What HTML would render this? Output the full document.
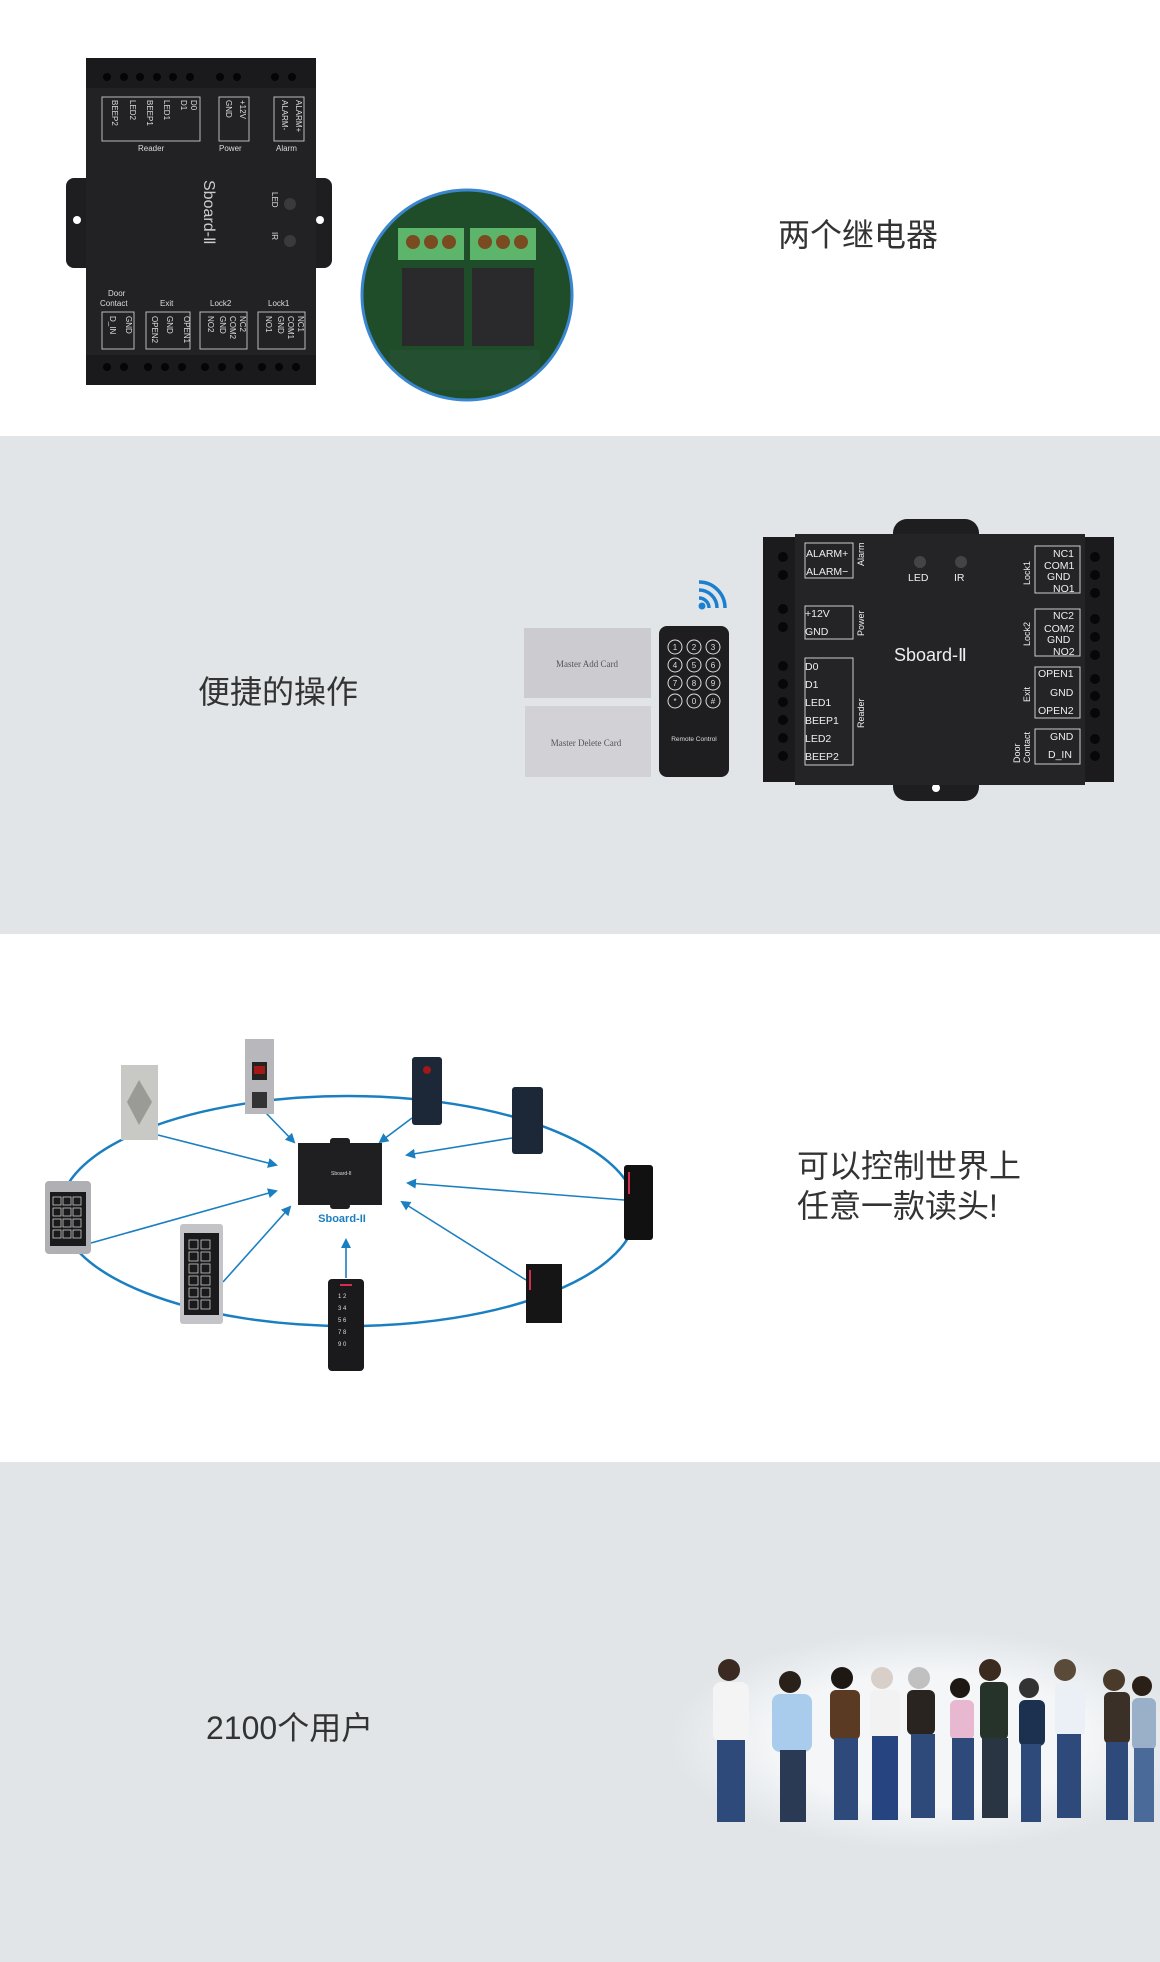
<!DOCTYPE html>
<html><head><meta charset="utf-8"><style>
html,body{margin:0;padding:0;}
body{width:1160px;height:1962px;position:relative;overflow:hidden;background:#fff;font-family:"Liberation Sans","Noto Sans CJK SC",sans-serif;}
.t{position:absolute;color:#333;font-family:"Liberation Sans","Noto Sans CJK SC",sans-serif;font-size:32px;line-height:40px;white-space:nowrap;}
</style></head><body>
<svg width="1160" height="1962" viewBox="0 0 1160 1962" style="position:absolute;left:0;top:0" font-family="Liberation Sans, sans-serif">
<defs>
<marker id="ar" markerWidth="10" markerHeight="10" refX="8" refY="5" orient="auto" markerUnits="userSpaceOnUse"><path d="M0,0 L10,5 L0,10 z" fill="#1a7fc0"/></marker>
<radialGradient id="halo" cx="0.5" cy="0.5" r="0.5"><stop offset="0.6" stop-color="#f4f6f8"/><stop offset="1" stop-color="#e1e5e8"/></radialGradient>
</defs>
<rect x="0" y="0" width="1160" height="436" fill="#fff"/>
<rect x="0" y="436" width="1160" height="498" fill="#e1e5e8"/>
<rect x="0" y="934" width="1160" height="528" fill="#fff"/>
<rect x="0" y="1462" width="1160" height="500" fill="#e1e5e8"/>

<!-- device 1 -->
<rect x="66" y="178" width="30" height="90" rx="8" fill="#1e1e20"/>
<rect x="302" y="178" width="30" height="90" rx="8" fill="#1e1e20"/>
<circle cx="77" cy="220" r="4" fill="#fff"/><circle cx="320" cy="220" r="4" fill="#fff"/>
<rect x="86" y="58" width="230" height="327" fill="#222224"/>
<rect x="86" y="58" width="230" height="30" fill="#1a1a1c"/>
<rect x="86" y="355" width="230" height="30" fill="#1a1a1c"/>
<g fill="#050505">
<circle cx="107" cy="77" r="4"/><circle cx="124" cy="77" r="4"/><circle cx="140" cy="77" r="4"/><circle cx="157" cy="77" r="4"/><circle cx="173" cy="77" r="4"/><circle cx="190" cy="77" r="4"/><circle cx="220" cy="77" r="4"/><circle cx="237" cy="77" r="4"/><circle cx="275" cy="77" r="4"/><circle cx="292" cy="77" r="4"/>
<circle cx="107" cy="367" r="4"/><circle cx="124" cy="367" r="4"/><circle cx="148" cy="367" r="4"/><circle cx="165" cy="367" r="4"/><circle cx="182" cy="367" r="4"/><circle cx="205" cy="367" r="4"/><circle cx="222" cy="367" r="4"/><circle cx="239" cy="367" r="4"/><circle cx="262" cy="367" r="4"/><circle cx="279" cy="367" r="4"/><circle cx="296" cy="367" r="4"/>
</g>
<g fill="none" stroke="#bbb" stroke-width="1">
<rect x="102" y="97" width="98" height="44"/><rect x="219" y="97" width="30" height="44"/><rect x="274" y="97" width="30" height="44"/>
<rect x="102" y="312" width="32" height="37"/><rect x="146" y="312" width="44" height="37"/><rect x="200" y="312" width="47" height="37"/><rect x="258" y="312" width="47" height="37"/>
</g>
<g fill="#ddd" font-size="8">
<text x="138" y="151">Reader</text><text x="219" y="151">Power</text><text x="276" y="151">Alarm</text>
<text x="108" y="296">Door</text><text x="100" y="306">Contact</text><text x="160" y="306">Exit</text><text x="210" y="306">Lock2</text><text x="268" y="306">Lock1</text>
</g>
<g fill="#ddd" font-size="8">
<text transform="translate(191,100) rotate(90)">D0</text><text transform="translate(181,100) rotate(90)">D1</text><text transform="translate(164,100) rotate(90)">LED1</text><text transform="translate(147,100) rotate(90)">BEEP1</text><text transform="translate(130,100) rotate(90)">LED2</text><text transform="translate(112,100) rotate(90)">BEEP2</text>
<text transform="translate(240,100) rotate(90)">+12V</text><text transform="translate(226,100) rotate(90)">GND</text>
<text transform="translate(296,100) rotate(90)">ALARM+</text><text transform="translate(282,100) rotate(90)">ALARM-</text>
<text transform="translate(204,180) rotate(90)" font-size="16" fill="#ccc">Sboard-Ⅱ</text>
<text transform="translate(272,192) rotate(90)">LED</text><text transform="translate(272,232) rotate(90)">IR</text>
<text transform="translate(126,316) rotate(90)">GND</text><text transform="translate(110,316) rotate(90)">D_IN</text>
<text transform="translate(184,316) rotate(90)">OPEN1</text><text transform="translate(167,316) rotate(90)">GND</text><text transform="translate(152,316) rotate(90)">OPEN2</text>
<text transform="translate(240,316) rotate(90)">NC2</text><text transform="translate(230,316) rotate(90)">COM2</text><text transform="translate(220,316) rotate(90)">GND</text><text transform="translate(208,316) rotate(90)">NO2</text>
<text transform="translate(298,316) rotate(90)">NC1</text><text transform="translate(288,316) rotate(90)">COM1</text><text transform="translate(278,316) rotate(90)">GND</text><text transform="translate(266,316) rotate(90)">NO1</text>
</g>
<circle cx="290" cy="204" r="6" fill="#3a3a3c"/><circle cx="290" cy="241" r="6" fill="#3a3a3c"/>

<!-- relay circle -->
<clipPath id="cc"><circle cx="467" cy="295" r="105"/></clipPath>
<g clip-path="url(#cc)">
<rect x="360" y="190" width="220" height="210" fill="#1f4d2a"/>
<rect x="398" y="228" width="66" height="32" fill="#5cb56a"/><rect x="470" y="228" width="66" height="32" fill="#5cb56a"/>
<circle cx="413" cy="242" r="7" fill="#7a4a20"/><circle cx="431" cy="242" r="7" fill="#7a4a20"/><circle cx="449" cy="242" r="7" fill="#7a4a20"/>
<circle cx="485" cy="242" r="7" fill="#7a4a20"/><circle cx="503" cy="242" r="7" fill="#7a4a20"/><circle cx="521" cy="242" r="7" fill="#7a4a20"/>
<rect x="402" y="268" width="62" height="78" fill="#2a2a2c"/><rect x="472" y="268" width="62" height="78" fill="#2a2a2c"/>
<rect x="390" y="350" width="150" height="40" fill="#244f30"/>
</g>
<circle cx="467" cy="295" r="105" fill="none" stroke="#3a87cf" stroke-width="3"/>

<!-- section 2 device -->
<rect x="893" y="519" width="86" height="40" rx="14" fill="#1e1e20"/>
<rect x="893" y="760" width="86" height="41" rx="14" fill="#1e1e20"/>
<circle cx="936" cy="538" r="4" fill="#fff"/><circle cx="936" cy="788" r="4" fill="#fff"/>
<rect x="763" y="537" width="351" height="245" fill="#1b1b1d"/>
<rect x="795" y="534" width="290" height="251" fill="#242426"/>
<g fill="#070707">
<circle cx="783" cy="557" r="5"/><circle cx="783" cy="575" r="5"/><circle cx="783" cy="609" r="5"/><circle cx="783" cy="627" r="5"/><circle cx="783" cy="666" r="5"/><circle cx="783" cy="684" r="5"/><circle cx="783" cy="702" r="5"/><circle cx="783" cy="720" r="5"/><circle cx="783" cy="738" r="5"/><circle cx="783" cy="756" r="5"/>
<circle cx="1095" cy="557" r="5"/><circle cx="1095" cy="575" r="5"/><circle cx="1095" cy="593" r="5"/><circle cx="1095" cy="619" r="5"/><circle cx="1095" cy="637" r="5"/><circle cx="1095" cy="655" r="5"/><circle cx="1095" cy="679" r="5"/><circle cx="1095" cy="696" r="5"/><circle cx="1095" cy="713" r="5"/><circle cx="1095" cy="739" r="5"/><circle cx="1095" cy="756" r="5"/>
</g>
<g fill="none" stroke="#ccc" stroke-width="1">
<rect x="805" y="543" width="48" height="35"/><rect x="805" y="606" width="48" height="33"/><rect x="805" y="658" width="48" height="107"/>
<rect x="1035" y="546" width="45" height="47"/><rect x="1035" y="609" width="45" height="47"/><rect x="1035" y="667" width="45" height="51"/><rect x="1035" y="729" width="45" height="35"/>
</g>
<g fill="#eee" font-size="10.5">
<text x="806" y="557">ALARM+</text><text x="806" y="575">ALARM−</text>
<text x="805" y="617">+12V</text><text x="805" y="635">GND</text>
<text x="805" y="670">D0</text><text x="805" y="688">D1</text><text x="805" y="706">LED1</text><text x="805" y="724">BEEP1</text><text x="805" y="742">LED2</text><text x="805" y="760">BEEP2</text>
<text x="1053" y="557">NC1</text><text x="1044" y="569">COM1</text><text x="1047" y="580">GND</text><text x="1053" y="592">NO1</text>
<text x="1053" y="619">NC2</text><text x="1044" y="632">COM2</text><text x="1047" y="643">GND</text><text x="1053" y="655">NO2</text>
<text x="1038" y="677">OPEN1</text><text x="1050" y="696">GND</text><text x="1038" y="714">OPEN2</text>
<text x="1050" y="740">GND</text><text x="1048" y="758">D_IN</text>
<text x="908" y="581">LED</text><text x="954" y="581">IR</text>
<text transform="translate(864,566) rotate(-90)" font-size="9">Alarm</text>
<text transform="translate(864,636) rotate(-90)" font-size="9">Power</text>
<text transform="translate(864,728) rotate(-90)" font-size="9">Reader</text>
<text transform="translate(1030,585) rotate(-90)" font-size="9">Lock1</text>
<text transform="translate(1030,646) rotate(-90)" font-size="9">Lock2</text>
<text transform="translate(1030,702) rotate(-90)" font-size="9">Exit</text>
<text transform="translate(1020,763) rotate(-90)" font-size="9">Door</text><text transform="translate(1030,763) rotate(-90)" font-size="9">Contact</text>
<text x="894" y="661" font-size="18">Sboard-Ⅱ</text>
</g>
<circle cx="920" cy="562" r="6" fill="#444"/><circle cx="961" cy="562" r="6" fill="#444"/>

<!-- cards -->
<rect x="524" y="628" width="127" height="70" fill="#ccccd0"/>
<rect x="525" y="706" width="126" height="71" fill="#d2d2d6"/>
<text x="587" y="667" font-family="Liberation Serif, serif" font-size="9" fill="#555" text-anchor="middle">Master Add Card</text>
<text x="586" y="746" font-family="Liberation Serif, serif" font-size="9" fill="#555" text-anchor="middle">Master Delete Card</text>
<!-- remote -->
<rect x="659" y="626" width="70" height="151" rx="8" fill="#1e1e20"/>
<g fill="none" stroke="#ddd" stroke-width="1"><circle cx="675" cy="647" r="7"/><circle cx="694" cy="647" r="7"/><circle cx="713" cy="647" r="7"/><circle cx="675" cy="665" r="7"/><circle cx="694" cy="665" r="7"/><circle cx="713" cy="665" r="7"/><circle cx="675" cy="683" r="7"/><circle cx="694" cy="683" r="7"/><circle cx="713" cy="683" r="7"/><circle cx="675" cy="701" r="7"/><circle cx="694" cy="701" r="7"/><circle cx="713" cy="701" r="7"/></g>
<g fill="#ddd" font-size="8" text-anchor="middle"><text x="675" y="650">1</text><text x="694" y="650">2</text><text x="713" y="650">3</text><text x="675" y="668">4</text><text x="694" y="668">5</text><text x="713" y="668">6</text><text x="675" y="686">7</text><text x="694" y="686">8</text><text x="713" y="686">9</text><text x="675" y="704">*</text><text x="694" y="704">0</text><text x="713" y="704">#</text>
<text x="694" y="741" font-size="6.5">Remote Control</text></g>
<g fill="none" stroke="#1a7fd0" stroke-width="3.5"><path d="M699,598 a10,10 0 0 1 10,10"/><path d="M699,590 a18,18 0 0 1 18,18"/><path d="M699,582 a26,26 0 0 1 26,26"/></g>
<circle cx="702" cy="606" r="3.5" fill="#1a7fd0"/>

<!-- section 3 -->
<ellipse cx="348" cy="1211" rx="288" ry="115" fill="none" stroke="#1a7fc0" stroke-width="2.5"/>
<g stroke="#1a7fc0" stroke-width="1.6" fill="none" marker-end="url(#ar)">
<line x1="265" y1="1112" x2="294" y2="1142"/>
<line x1="412" y1="1118" x2="380" y2="1142"/>
<line x1="158" y1="1135" x2="276" y2="1165"/>
<line x1="512" y1="1138" x2="407" y2="1155"/>
<line x1="624" y1="1200" x2="408" y2="1183"/>
<line x1="526" y1="1280" x2="402" y2="1202"/>
<line x1="91" y1="1243" x2="276" y2="1191"/>
<line x1="223" y1="1282" x2="290" y2="1207"/>
<line x1="346" y1="1278" x2="346" y2="1240"/>
</g>
<!-- central board -->
<rect x="298" y="1143" width="84" height="62" fill="#1f1f21"/>
<rect x="330" y="1138" width="20" height="8" rx="3" fill="#1f1f21"/><rect x="330" y="1203" width="20" height="6" rx="3" fill="#1f1f21"/>
<text x="331" y="1175" font-size="5" fill="#ddd">Sboard-II</text>
<text x="342" y="1222" font-size="11" fill="#1a7fc0" text-anchor="middle" font-weight="bold">Sboard-II</text>
<!-- readers -->
<rect x="121" y="1065" width="37" height="75" fill="#c8c8c4"/><path d="M139,1080 L152,1102 L139,1125 L127,1102 z" fill="#9a9a96"/>
<rect x="245" y="1039" width="29" height="75" fill="#b8b8bc"/><rect x="252" y="1062" width="15" height="18" fill="#222"/><rect x="254" y="1066" width="11" height="8" fill="#a01818"/><rect x="252" y="1092" width="15" height="16" fill="#333"/>
<rect x="412" y="1057" width="30" height="68" rx="3" fill="#1c2838"/><circle cx="427" cy="1070" r="4" fill="#a01818"/>
<rect x="512" y="1087" width="31" height="67" rx="3" fill="#1c2838"/>
<rect x="624" y="1165" width="29" height="75" rx="3" fill="#111"/><rect x="628" y="1172" width="2" height="22" fill="#d03050"/>
<rect x="526" y="1264" width="36" height="59" fill="#151515"/><rect x="529" y="1270" width="2" height="20" fill="#d03050"/>
<rect x="328" y="1279" width="36" height="92" rx="4" fill="#1a1a1c"/><rect x="340" y="1284" width="12" height="2" fill="#d03050"/>
<g fill="#ddd" font-size="6"><text x="338" y="1298">1 2</text><text x="338" y="1310">3 4</text><text x="338" y="1322">5 6</text><text x="338" y="1334">7 8</text><text x="338" y="1346">9 0</text></g>
<rect x="180" y="1224" width="43" height="100" rx="3" fill="#c4c4c8"/><rect x="184" y="1233" width="35" height="82" fill="#1a1a1c"/>
<g fill="none" stroke="#ccc" stroke-width="0.8"><rect x="189" y="1240" width="9" height="9"/><rect x="201" y="1240" width="9" height="9"/><rect x="189" y="1252" width="9" height="9"/><rect x="201" y="1252" width="9" height="9"/><rect x="189" y="1264" width="9" height="9"/><rect x="201" y="1264" width="9" height="9"/><rect x="189" y="1276" width="9" height="9"/><rect x="201" y="1276" width="9" height="9"/><rect x="189" y="1288" width="9" height="9"/><rect x="201" y="1288" width="9" height="9"/><rect x="189" y="1300" width="9" height="9"/><rect x="201" y="1300" width="9" height="9"/></g>
<rect x="45" y="1181" width="46" height="73" rx="4" fill="#b0b0b4"/><rect x="50" y="1192" width="36" height="54" fill="#1a1a1c"/>
<g fill="none" stroke="#ccc" stroke-width="0.8"><rect x="53" y="1197" width="8" height="8"/><rect x="63" y="1197" width="8" height="8"/><rect x="73" y="1197" width="8" height="8"/><rect x="53" y="1208" width="8" height="8"/><rect x="63" y="1208" width="8" height="8"/><rect x="73" y="1208" width="8" height="8"/><rect x="53" y="1219" width="8" height="8"/><rect x="63" y="1219" width="8" height="8"/><rect x="73" y="1219" width="8" height="8"/><rect x="53" y="1230" width="8" height="8"/><rect x="63" y="1230" width="8" height="8"/><rect x="73" y="1230" width="8" height="8"/></g>

<!-- people -->
<ellipse cx="930" cy="1740" rx="260" ry="110" fill="url(#halo)"/>
<g id="ppl">
<g transform="translate(727,1660)"><circle cx="2" cy="10" r="11" fill="#3a2a22"/><rect x="-14" y="22" width="36" height="60" rx="8" fill="#f4f4f4"/><rect x="-10" y="80" width="28" height="82" fill="#2e4a7a"/></g>
<g transform="translate(788,1672)"><circle cx="2" cy="10" r="11" fill="#2a201a"/><rect x="-16" y="22" width="40" height="58" rx="8" fill="#aaccec"/><rect x="-8" y="78" width="26" height="72" fill="#2a3a55"/></g>
<g transform="translate(840,1668)"><circle cx="2" cy="10" r="11" fill="#1e1815"/><rect x="-10" y="22" width="30" height="50" rx="6" fill="#5a3a22"/><rect x="-6" y="70" width="24" height="82" fill="#2e4a7a"/></g>
<g transform="translate(880,1668)"><circle cx="2" cy="10" r="11" fill="#d8cfc8"/><rect x="-10" y="22" width="30" height="48" rx="6" fill="#f2f2f2"/><rect x="-8" y="68" width="26" height="84" fill="#254480"/></g>
<g transform="translate(917,1668)"><circle cx="2" cy="10" r="11" fill="#c0c0c0"/><rect x="-10" y="22" width="28" height="45" rx="6" fill="#2a2420"/><rect x="-6" y="66" width="24" height="84" fill="#2e4a7a"/></g>
<g transform="translate(958,1678)"><circle cx="2" cy="10" r="10" fill="#1e1815"/><rect x="-8" y="22" width="24" height="40" rx="6" fill="#e8b8d0"/><rect x="-6" y="60" width="22" height="82" fill="#2e4a7a"/></g>
<g transform="translate(988,1660)"><circle cx="2" cy="10" r="11" fill="#3a2a20"/><rect x="-8" y="22" width="28" height="58" rx="6" fill="#26332a"/><rect x="-6" y="78" width="26" height="80" fill="#2a3544"/></g>
<g transform="translate(1027,1678)"><circle cx="2" cy="10" r="10" fill="#333"/><rect x="-8" y="22" width="26" height="46" rx="6" fill="#1c3050"/><rect x="-6" y="66" width="20" height="78" fill="#2e4a7a"/></g>
<g transform="translate(1063,1660)"><circle cx="2" cy="10" r="11" fill="#5a4a3a"/><rect x="-8" y="22" width="30" height="54" rx="6" fill="#eaf0f6"/><rect x="-6" y="74" width="24" height="84" fill="#2e4a7a"/></g>
<g transform="translate(1112,1670)"><circle cx="2" cy="10" r="11" fill="#4a3a2a"/><rect x="-8" y="22" width="26" height="52" rx="6" fill="#3a3028"/><rect x="-6" y="72" width="22" height="78" fill="#2e4a7a"/></g>
<g transform="translate(1140,1676)"><circle cx="2" cy="10" r="10" fill="#2a2018"/><rect x="-8" y="22" width="24" height="52" rx="6" fill="#9ab0c8"/><rect x="-6" y="72" width="20" height="74" fill="#4a6a9a"/></g>
</g>
</svg>
<div class="t" style="left:778px;top:215px;">两个继电器</div>
<div class="t" style="left:198px;top:672px;">便捷的操作</div>
<div class="t" style="left:797px;top:1146px;">可以控制世界上</div>
<div class="t" style="left:797px;top:1186px;">任意一款读头!</div>
<div class="t" style="left:206px;top:1708px;">2100个用户</div>
</body></html>
